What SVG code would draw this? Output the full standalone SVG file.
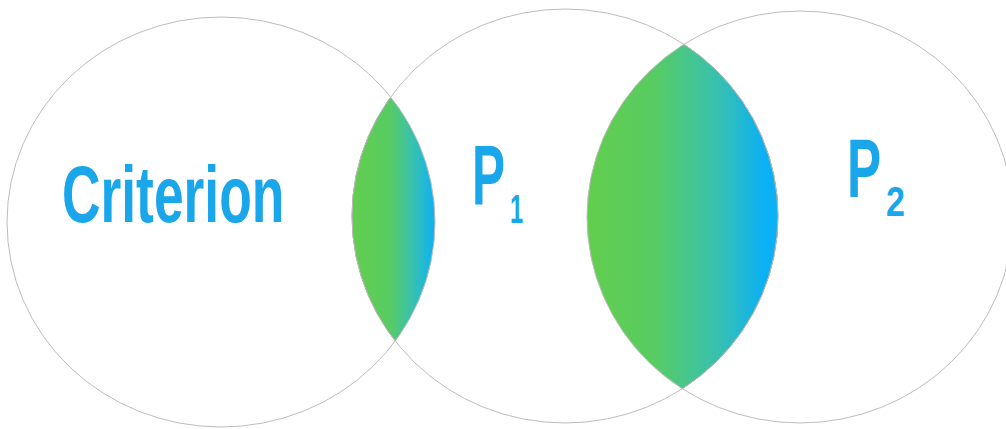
<svg xmlns="http://www.w3.org/2000/svg" width="1006" height="429" viewBox="0 0 1006 429">
<style>
.circ{fill:none;stroke:#bdbdbd;stroke-width:1}
.lens{stroke:#6a8a6a;stroke-width:0.8}
.lbl{font-family:"Liberation Sans",Arial,sans-serif;fill:#19a6ea;font-weight:bold}
</style>
<defs>
<linearGradient id="g1" gradientUnits="userSpaceOnUse" x1="352" y1="0" x2="435" y2="0">
<stop offset="0" stop-color="#62ce4e"/>
<stop offset="0.45" stop-color="#58cc62"/>
<stop offset="0.75" stop-color="#35c0b5"/>
<stop offset="1" stop-color="#0cb0f4"/>
</linearGradient>
<linearGradient id="g2" gradientUnits="userSpaceOnUse" x1="587" y1="0" x2="779" y2="0">
<stop offset="0" stop-color="#62ce4e"/>
<stop offset="0.35" stop-color="#58cc62"/>
<stop offset="0.7" stop-color="#35c0b5"/>
<stop offset="0.92" stop-color="#0cb0f4"/>
<stop offset="1" stop-color="#0cb0f4"/>
</linearGradient>
<clipPath id="clip1"><ellipse cx="221" cy="222" rx="214" ry="205"/></clipPath>
<clipPath id="clip3"><ellipse cx="800" cy="217" rx="213" ry="206"/></clipPath>
</defs>
<rect width="1006" height="429" fill="#ffffff"/>
<g id="lens-criterion-p1">
<ellipse class="lens" cx="565" cy="216" rx="213" ry="207" fill="url(#g1)" clip-path="url(#clip1)"/>
</g>
<g id="lens-p1-p2">
<ellipse class="lens" cx="565" cy="216" rx="213" ry="207" fill="url(#g2)" clip-path="url(#clip3)"/>
</g>
<g id="criterion">
<ellipse class="circ" cx="221" cy="222" rx="214" ry="205"/>
<text class="lbl" transform="translate(62,222) scale(0.667,1)" font-size="80">Criterion</text>
</g>
<g id="p1">
<ellipse class="circ" cx="565" cy="216" rx="213" ry="207"/>
<text class="lbl" transform="translate(472,205) scale(0.576,1)" font-size="86">P</text>
<text class="lbl" transform="translate(510,223) scale(0.59,1)" font-size="40">1</text>
</g>
<g id="p2">
<ellipse class="circ" cx="800" cy="217" rx="213" ry="206"/>
<text class="lbl" transform="translate(847,197) scale(0.61,1)" font-size="84">P</text>
<text class="lbl" transform="translate(886,216) scale(0.81,1)" font-size="42">2</text>
</g>
<g id="connectors"/>
</svg>
